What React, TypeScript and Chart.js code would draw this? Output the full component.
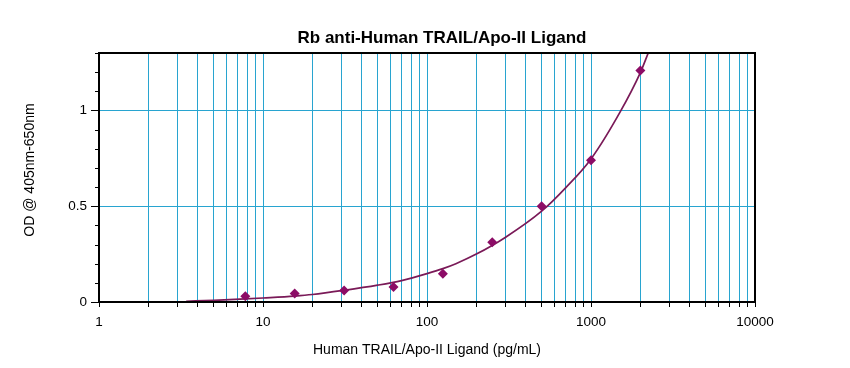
import React, { useEffect, useRef } from "react";
import { Chart, registerables } from "chart.js";

Chart.register(...registerables);

const TITLE = "Rb anti-Human TRAIL/Apo-II Ligand";
const X_TITLE = "Human TRAIL/Apo-II Ligand (pg/mL)";
const Y_TITLE = "OD @ 405nm-650nm";

// standards (pg/mL) and measured OD
const STD_CONC = [7.8, 15.6, 31.25, 62.5, 125, 250, 500, 1000, 2000];
const STD_OD = [0.03, 0.044, 0.06, 0.078, 0.148, 0.312, 0.5, 0.74, 1.208];

// fitted curve
const FIT_CONC = [3.4, 5, 7.8, 10, 15.6, 20, 31.25, 50, 70, 100, 125, 150, 200, 300, 500, 700, 1000, 1500, 2000, 2234];
const FIT_OD = [0.004, 0.009, 0.016, 0.021, 0.031, 0.039, 0.061, 0.088, 0.112, 0.148, 0.174, 0.2, 0.25, 0.337, 0.474, 0.596, 0.747, 0.99, 1.198, 1.3];

// axis ticks
const X_GRID = [1, 2, 3, 4, 5, 6, 7, 8, 9, 10, 20, 30, 40, 50, 60, 70, 80, 90, 100, 200, 300, 400, 500, 600, 700, 800, 900, 1000, 2000, 3000, 4000, 5000, 6000, 7000, 8000, 9000, 10000];
const X_LABELS = [1, 10, 100, 1000, 10000];
const Y_GRID = [0, 0.1, 0.2, 0.3, 0.4, 0.5, 0.6, 0.7, 0.8, 0.9, 1, 1.1, 1.2, 1.3];
const Y_LABELS = [0, 0.5, 1];

const FONT = "'Liberation Sans', Arial, Helvetica, sans-serif";
const GRID = "rgb(40,164,208)";
const CURVE = "#7a1a58";
const MARK = "#8c0c66";

const isYLabel = (v: number) => Y_LABELS.some((l) => Math.abs(l - v) < 1e-9);

const decor = {
  id: "decor",
  afterDraw(chart: any) {
    const { ctx, chartArea: a, scales } = chart;
    const y = scales.y;
    ctx.save();
    // minor y ticks (short)
    ctx.strokeStyle = "#000";
    ctx.lineWidth = 1;
    y.ticks.forEach((t: any) => {
      if (!isYLabel(t.value)) {
        const py = Math.round(y.getPixelForValue(t.value)) + 0.5;
        ctx.beginPath();
        ctx.moveTo(a.left - 4, py);
        ctx.lineTo(a.left, py);
        ctx.stroke();
      }
    });
    // frame
    ctx.lineWidth = 2;
    ctx.strokeRect(a.left, a.top, a.right - a.left, a.bottom - a.top);
    // chart title
    ctx.fillStyle = "#000";
    ctx.font = `bold 17px ${FONT}`;
    ctx.textAlign = "center";
    ctx.textBaseline = "alphabetic";
    ctx.fillText(TITLE, (a.left + a.right) / 2 + 15, 43);
    // y title
    ctx.font = `14px ${FONT}`;
    ctx.translate(34, 170);
    ctx.rotate(-Math.PI / 2);
    ctx.fillText(Y_TITLE, 0, 0);
    ctx.restore();
  },
};

export default function App() {
  const ref = useRef<HTMLCanvasElement | null>(null);

  useEffect(() => {
    if (!ref.current) return;
    const chart = new Chart(ref.current, {
      type: "scatter",
      data: {
        datasets: [
          {
            label: "fit",
            data: FIT_CONC.map((x, i) => ({ x, y: FIT_OD[i] })),
            showLine: true,
            borderColor: CURVE,
            borderWidth: 1.7,
            pointRadius: 0,
            cubicInterpolationMode: "monotone",
            order: 2,
          },
          {
            label: "standards",
            data: STD_CONC.map((x, i) => ({ x, y: STD_OD[i] })),
            showLine: false,
            pointStyle: "rectRot",
            pointRadius: 5,
            pointBackgroundColor: MARK,
            pointBorderColor: MARK,
            pointBorderWidth: 0,
            order: 1,
          },
        ],
      },
      options: {
        responsive: false,
        animation: false,
        devicePixelRatio: 1,
        layout: { padding: { top: 53, right: 95, left: 0, bottom: 0 } },
        plugins: {
          legend: { display: false },
          tooltip: { enabled: false },
          title: { display: false },
        },
        scales: {
          x: {
            type: "logarithmic",
            min: 1,
            max: 10000,
            afterBuildTicks: (s: any) => {
              s.ticks = X_GRID.map((v) => ({ value: v }));
            },
            afterFit: (s: any) => {
              s.height = 66;
            },
            ticks: {
              autoSkip: false,
              maxRotation: 0,
              padding: 7,
              color: "#000",
              font: { family: FONT, size: 13.5 },
              callback: (v: any) => (X_LABELS.includes(Number(v)) ? String(v) : ""),
            },
            grid: { color: GRID, lineWidth: 1, tickColor: "#000", tickLength: 5 },
            border: { display: false },
            title: {
              display: true,
              text: X_TITLE,
              color: "#000",
              font: { family: FONT, size: 14 },
              padding: { top: 0, bottom: 9 },
            },
          },
          y: {
            type: "linear",
            min: 0,
            max: 1.3,
            afterBuildTicks: (s: any) => {
              s.ticks = Y_GRID.map((v) => ({ value: v }));
            },
            afterFit: (s: any) => {
              s.width = 99;
            },
            ticks: {
              autoSkip: false,
              padding: 4,
              color: "#000",
              font: { family: FONT, size: 13.5 },
              callback: (v: any) => (isYLabel(Number(v)) ? String(v) : ""),
            },
            grid: {
              color: (c: any) => (c.tick && isYLabel(c.tick.value) && c.tick.value !== 0 ? GRID : "rgba(0,0,0,0)"),
              tickColor: (c: any) => (c.tick && isYLabel(c.tick.value) ? "#000" : "rgba(0,0,0,0)"),
              tickLength: 8,
              lineWidth: 1,
            },
            border: { display: false },
          },
        },
      },
      plugins: [decor],
    } as any);
    return () => chart.destroy();
  }, []);

  return (
    <div style={{ position: "fixed", left: 0, top: 0, width: 850, height: 368, background: "#fff" }}>
      <canvas ref={ref} width={850} height={368} style={{ display: "block", width: 850, height: 368 }} />
    </div>
  );
}
